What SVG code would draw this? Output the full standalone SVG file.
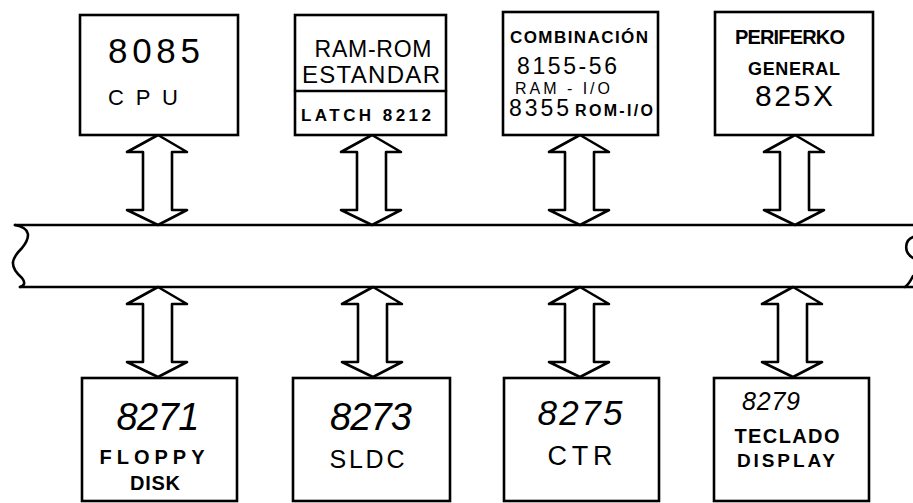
<svg xmlns="http://www.w3.org/2000/svg" width="913" height="503" viewBox="0 0 913 503">
<style>
.box{fill:#fff;stroke:#000;stroke-width:2.6}
.ln{fill:none;stroke:#000;stroke-width:2.6;stroke-linejoin:round;stroke-linecap:round}
.arr{fill:#fff;stroke:#000;stroke-width:2.6;stroke-linejoin:round}
text{font-family:"Liberation Sans","DejaVu Sans",sans-serif;fill:#000}
.c{text-anchor:middle}
.b{font-weight:bold}
</style>
<defs>
<path id="dbl" d="M0,0 L-31,17 L-15,17 L-15,75 L-31,75 L0,90 L29,75 L14,75 L14,17 L29,17 Z"/>
</defs>
<rect width="913" height="503" fill="#fff"/>
<g id="connectors">
<use href="#dbl" class="arr" transform="translate(158,135)"/>
<use href="#dbl" class="arr" transform="translate(372,135)"/>
<use href="#dbl" class="arr" transform="translate(580,135)"/>
<use href="#dbl" class="arr" transform="translate(795,135)"/>
<use href="#dbl" class="arr" transform="translate(158,287)"/>
<use href="#dbl" class="arr" transform="translate(373,287)"/>
<use href="#dbl" class="arr" transform="translate(580,287)"/>
<use href="#dbl" class="arr" transform="translate(793,287)"/>
</g>
<g id="bus">
<path class="ln" d="M15,225 L913,225"/>
<path class="ln" d="M20,287 L913,287"/>
<path class="ln" d="M15,225 C32,228 30,238 22,248 C12,258 8,266 22,278 C26,283 24,286 20,287"/>
<path class="ln" d="M913,237 C905,240 903,252 913,258"/>
<path class="ln" d="M913,276 C910,282 908,285 905,287"/>
</g>
<g id="cpu">
<rect class="box" x="80" y="15" width="158" height="120"/>
<text x="154" y="63" class="c" font-size="35" textLength="92">8085</text>
<text x="143" y="105" class="c" font-size="22" textLength="70">CPU</text>
</g>
<g id="ramrom">
<rect class="box" x="295" y="15" width="151" height="120"/>
<line class="ln" x1="295" y1="91" x2="446" y2="91"/>
<text x="373" y="57" class="c" font-size="23" textLength="117">RAM-ROM</text>
<text x="371" y="83" class="c" font-size="24" textLength="138">ESTANDAR</text>
<text x="366" y="121" class="c b" font-size="17" textLength="130">LATCH 8212</text>
</g>
<g id="combinacion">
<rect class="box" x="503" y="12" width="155" height="123"/>
<text x="510" y="43" font-size="17" class="b" textLength="138">COMBINACIÓN</text>
<text x="517" y="74" font-size="23" textLength="100">8155-56</text>
<text x="515" y="94" font-size="16" textLength="95">RAM - I/O</text>
<text x="509" y="116" font-size="23" textLength="60">8355</text>
<text x="575" y="116" font-size="16" class="b" textLength="78">ROM-I/O</text>
</g>
<g id="periferico">
<rect class="box" x="715" y="12" width="158" height="123"/>
<text x="790" y="44" class="c b" font-size="20" textLength="110">PERIFERKO</text>
<text x="794" y="75" class="c b" font-size="18" textLength="92">GENERAL</text>
<text x="794" y="106" class="c" font-size="30" textLength="78">825X</text>
</g>
<g id="floppy">
<rect class="box" x="82" y="378" width="155" height="123"/>
<text x="158" y="430" class="c" font-size="38" font-style="italic" textLength="83">8271</text>
<text x="152" y="464" class="c b" font-size="20" textLength="105">FLOPPY</text>
<text x="155" y="490" class="c b" font-size="20" textLength="50">DISK</text>
</g>
<g id="sldc">
<rect class="box" x="293" y="378" width="157" height="123"/>
<text x="371" y="430" class="c" font-size="38" font-style="italic" textLength="82">8273</text>
<text x="367" y="468" class="c" font-size="25" textLength="75">SLDC</text>
</g>
<g id="ctr">
<rect class="box" x="504" y="378" width="155" height="123"/>
<text x="580" y="425" class="c" font-size="35" font-style="italic" textLength="85">8275</text>
<text x="580" y="465" class="c" font-size="27" textLength="65">CTR</text>
</g>
<g id="teclado">
<rect class="box" x="714" y="378" width="155" height="123"/>
<text x="742" y="410" font-size="25" font-style="italic" textLength="58">8279</text>
<text x="787" y="443" class="c b" font-size="20" textLength="105">TECLADO</text>
<text x="786" y="467" class="c b" font-size="19" textLength="98">DISPLAY</text>
</g>
</svg>
